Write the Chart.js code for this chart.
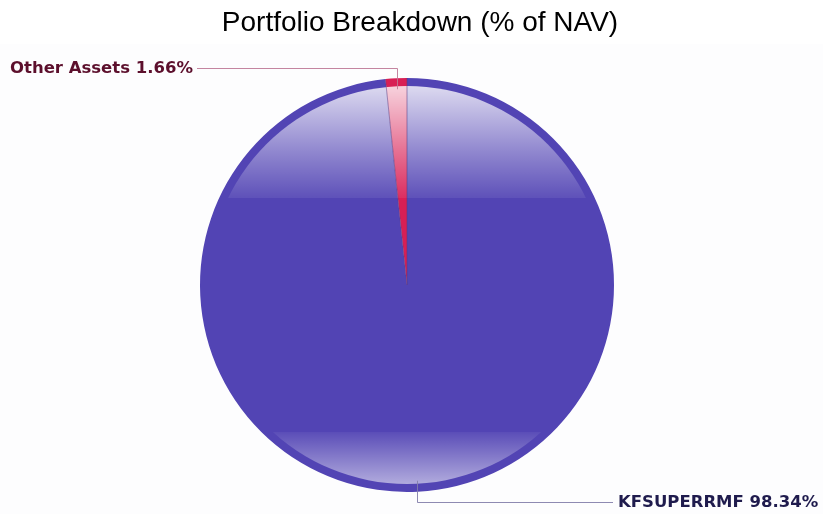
<!DOCTYPE html>
<html>
<head>
<meta charset="utf-8">
<script src="https://cdn.jsdelivr.net/npm/chart.js@4.4.1/dist/chart.umd.min.js"></script>
<style>
  html, body { margin: 0; padding: 0; background: #fff; }
  #wrap { width: 823px; height: 514px; }
</style>
</head>
<body>
<div id="wrap"><canvas id="pieChart" width="823" height="514"></canvas></div>
<script>
// data
const labels = ["KFSUPERRMF", "Other Assets"];
const values = [98.34, 1.66];
const colors = ["#5244b4", "#d81f55"];
const labelColors = ["#1f1b4d", "#5c0f2c"];
const chartTitle = "Portfolio Breakdown (% of NAV)";

// background + title
const backdrop = {
  id: "backdrop",
  beforeDraw(chart) {
    const c = chart.ctx;
    c.save();
    c.fillStyle = "#ffffff";
    c.fillRect(0, 0, chart.width, chart.height);
    c.fillStyle = "#fdfdfe";
    c.fillRect(0, 44, chart.width, chart.height - 44);
    c.fillStyle = "#000";
    c.font = "28px 'Liberation Sans', Arial, sans-serif";
    c.textAlign = "center";
    c.textBaseline = "middle";
    c.fillText(chartTitle, 420, 23);
    c.restore();
  }
};

// glossy highlight on top and bottom of the pie
const gloss = {
  id: "gloss",
  afterDatasetsDraw(chart) {
    const arc = chart.getDatasetMeta(0).data[0];
    const { x, y, outerRadius } = arc.getProps(["x", "y", "outerRadius"], true);
    const r = outerRadius - 8;
    const c = chart.ctx;
    c.save();
    c.beginPath();
    c.arc(x, y, r, 0, Math.PI * 2);
    c.clip();
    // top shine
    let g = c.createLinearGradient(0, y - r, 0, y - 87);
    g.addColorStop(0, "rgba(255,255,255,0.8)");
    g.addColorStop(0.6, "rgba(255,255,255,0.35)");
    g.addColorStop(1, "rgba(255,255,255,0.07)");
    c.fillStyle = g;
    c.fillRect(x - r, y - r, r * 2, r - 87);
    // bottom shine
    g = c.createLinearGradient(0, y + 147, 0, y + r);
    g.addColorStop(0, "rgba(255,255,255,0.05)");
    g.addColorStop(1, "rgba(255,255,255,0.55)");
    c.fillStyle = g;
    c.fillRect(x - r, y + 147, r * 2, r - 147);
    c.restore();
    // slice edges
    c.save();
    c.strokeStyle = "rgba(90,60,130,0.55)";
    c.lineWidth = 1;
    chart.getDatasetMeta(0).data.forEach(a => {
      const p = a.getProps(["startAngle"], true);
      c.beginPath();
      c.moveTo(x, y);
      c.lineTo(x + outerRadius * Math.cos(p.startAngle), y + outerRadius * Math.sin(p.startAngle));
      c.stroke();
    });
    c.restore();
  }
};

// outside labels with leader lines
const sliceLabels = {
  id: "sliceLabels",
  afterDraw(chart) {
    const c = chart.ctx;
    const meta = chart.getDatasetMeta(0);
    c.save();
    c.font = "bold 16.5px 'DejaVu Sans', Verdana, sans-serif";
    c.textBaseline = "middle";
    meta.data.forEach((a, i) => {
      const p = a.getProps(["x", "y", "startAngle", "endAngle", "outerRadius"], true);
      const mid = (p.startAngle + p.endAngle) / 2;
      const ax = p.x + (p.outerRadius - 11) * Math.cos(mid);
      const ay = p.y + (p.outerRadius - 11) * Math.sin(mid);
      const up = Math.sin(mid) < 0;
      const ey = up ? p.y - p.outerRadius - 10 : p.y + p.outerRadius + 10;
      const text = labels[i] + " " + values[i].toFixed(2) + "%";
      const ex = up ? 197 : 613;
      c.strokeStyle = up ? "rgba(190,120,150,0.9)" : "rgba(130,125,170,0.9)";
      c.lineWidth = 1;
      c.beginPath();
      c.moveTo(Math.round(ax) + 0.5, ay);
      c.lineTo(Math.round(ax) + 0.5, Math.round(ey) + 0.5);
      c.lineTo(ex, Math.round(ey) + 0.5);
      c.stroke();
      c.fillStyle = labelColors[i];
      c.textAlign = up ? "right" : "left";
      c.fillText(text, up ? ex - 4 : ex + 5, ey + 1);
    });
    c.restore();
  }
};

new Chart(document.getElementById("pieChart"), {
  type: "pie",
  data: {
    labels: labels,
    datasets: [{
      data: values,
      backgroundColor: colors,
      borderWidth: 0
    }]
  },
  options: {
    responsive: false,
    animation: false,
    layout: { padding: { top: 78, bottom: 22, left: 100, right: 109 } },
    plugins: {
      legend: { display: false },
      tooltip: { enabled: false },
      title: { display: false }
    }
  },
  plugins: [backdrop, gloss, sliceLabels]
});
</script>
</body>
</html>
